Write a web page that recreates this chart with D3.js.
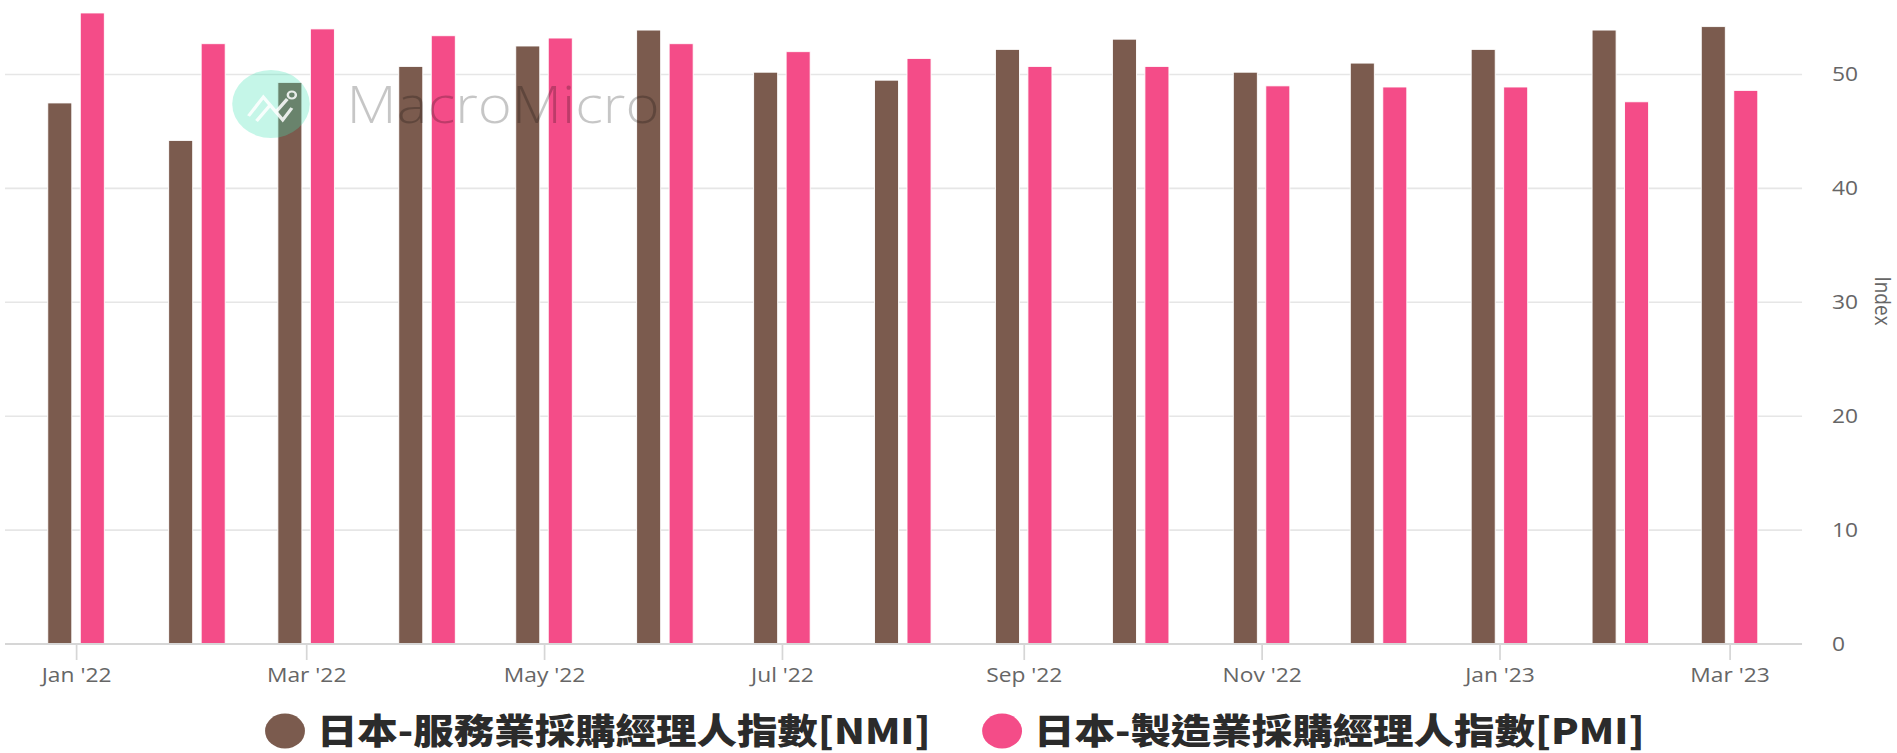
<!DOCTYPE html>
<html>
<head>
<meta charset="utf-8">
<script src="https://cdn.jsdelivr.net/npm/d3@7"></script>
<style>
  html, body { margin: 0; padding: 0; background: #fff; overflow: hidden; }
  svg { display: block; }
</style>
</head>
<body>
<svg id="chart"></svg>
<script>
// ---- data ----
const months = ["2022-01","2022-02","2022-03","2022-04","2022-05","2022-06","2022-07","2022-08",
                "2022-09","2022-10","2022-11","2022-12","2023-01","2023-02","2023-03"];
const nmiValues = [47.5, 44.2, 49.3, 50.7, 52.5, 53.9, 50.2, 49.5, 52.2, 53.1, 50.2, 51.0, 52.2, 53.9, 54.2];
const pmiValues = [55.4, 52.7, 54.0, 53.4, 53.2, 52.7, 52.0, 51.4, 50.7, 50.7, 49.0, 48.9, 48.9, 47.6, 48.6];
const seriesNames = ["日本-服務業採購經理人指數[NMI]", "日本-製造業採購經理人指數[PMI]"];
const seriesKeys = ["nmi", "pmi"];
const seriesColors = ["#7b5b4e", "#f44c88"];
const xTickDates = ["2022-01","2022-03","2022-05","2022-07","2022-09","2022-11","2023-01","2023-03"];
const xTickLabels = ["Jan '22","Mar '22","May '22","Jul '22","Sep '22","Nov '22","Jan '23","Mar '23"];
const yTicks = [0, 10, 20, 30, 40, 50];
const yAxisTitle = "Index";

// ---- layout (logical coords, stretched horizontally to the window) ----
const W = 1897, H = 753;
const LW = 1664;                 // logical width
const parse = s => { const [y, m] = s.split("-").map(Number); return new Date(Date.UTC(y, m - 1, 1)); };

const svg = d3.select("#chart")
  .attr("width", W).attr("height", H)
  .attr("viewBox", `0 0 ${LW} ${H}`)
  .attr("preserveAspectRatio", "none");

const plotLeft = 4.4, plotRight = 1580.7;
const x = d3.scaleUtc()
  .domain([parse("2022-01"), parse("2023-03")])
  .range([66.7, 1517.1]);
const y = d3.scaleLinear().domain([0, 56]).range([644, 644 - 56 * 11.39]);
const inner = d3.scaleBand().domain(seriesKeys).range([-24.8, 24.8]).paddingInner(0.26).paddingOuter(0);

const font = "'Open Sans', 'Noto Sans', sans-serif";

// gridlines
svg.append("g").selectAll("line").data(yTicks.filter(d => d > 0)).join("line")
  .attr("x1", plotLeft).attr("x2", plotRight)
  .attr("y1", d => y(d)).attr("y2", d => y(d))
  .attr("stroke", "#e6e6e6").attr("stroke-width", 1.6);

// bars
const data = months.map((m, i) => ({ date: parse(m), nmi: nmiValues[i], pmi: pmiValues[i] }));
const groups = svg.append("g").selectAll("g").data(data).join("g")
  .attr("transform", d => `translate(${x(d.date)},0)`);
groups.selectAll("rect").data(d => seriesKeys.map((k, j) => ({ key: k, value: d[k], color: seriesColors[j] })))
  .join("rect")
  .attr("x", d => inner(d.key))
  .attr("width", inner.bandwidth())
  .attr("y", d => y(d.value))
  .attr("height", d => y(0) - y(d.value))
  .attr("fill", d => d.color)
  .attr("stroke", "#fff").attr("stroke-width", 0.8);

// x axis
const xAxis = d3.axisBottom(x)
  .tickValues(xTickDates.map(parse))
  .tickFormat((d, i) => xTickLabels[i])
  .tickSize(16).tickPadding(8);
const gx = svg.append("g").attr("transform", `translate(0,${y(0)})`).call(xAxis);
gx.select(".domain").remove();
gx.append("line").attr("x1", plotLeft).attr("x2", plotRight).attr("y1", 0).attr("y2", 0)
  .attr("stroke", "#d6d6d6").attr("stroke-width", 2);
gx.selectAll(".tick line").attr("stroke", "#d6d6d6").attr("stroke-width", 1.5);
gx.selectAll(".tick text").attr("fill", "#666").attr("font-size", 20).attr("font-family", font);

// y axis (right)
const yAxis = d3.axisRight(y).tickValues(yTicks).tickSize(0).tickPadding(0);
const gy = svg.append("g").attr("transform", `translate(1607,0)`).call(yAxis);
gy.select(".domain").remove();
gy.selectAll(".tick text").attr("fill", "#666").attr("font-size", 20).attr("font-family", font)
  .attr("text-anchor", "start").attr("x", 0);

svg.append("text")
  .attr("transform", `translate(1651,301) rotate(90)`)
  .attr("text-anchor", "middle").attr("dy", "0.35em")
  .attr("fill", "#666").attr("font-size", 19).attr("font-family", font)
  .text(yAxisTitle);

// watermark
const wm = svg.append("g");
wm.append("circle").attr("cx", 237.7).attr("cy", 104).attr("r", 34)
  .attr("fill", "rgb(64,224,180)").attr("opacity", 0.3);
wm.append("path")
  .attr("d", "M218,116 L231,97 L242,112 L252,99 M225,121 L237,105 L248,120 L256,108")
  .attr("fill", "none").attr("stroke", "#fff").attr("stroke-width", 3).attr("opacity", 0.85);
wm.append("circle").attr("cx", 256).attr("cy", 95).attr("r", 3.5)
  .attr("fill", "none").attr("stroke", "#fff").attr("stroke-width", 2.2).attr("opacity", 0.85);
wm.append("text").attr("x", 304).attr("y", 123)
  .attr("font-family", "'Open Sans', sans-serif").attr("font-size", 51).attr("font-weight", 300)
  .attr("fill", "#000").attr("opacity", 0.22)
  .text("MacroMicro");

// legend
const legendX = [250, 879];
const lg = svg.append("g").selectAll("g").data(seriesNames).join("g")
  .attr("transform", (d, i) => `translate(${legendX[i]},731)`);
lg.append("circle").attr("r", 17.5).attr("fill", (d, i) => seriesColors[i]);
lg.append("text").attr("x", 28).attr("y", 13)
  .attr("font-family", "'Noto Sans CJK TC', 'Noto Sans CJK SC', sans-serif")
  .attr("font-weight", 900).attr("font-size", 35.5).attr("fill", "#2b2b2b")
  .text(d => d);
</script>
</body>
</html>
